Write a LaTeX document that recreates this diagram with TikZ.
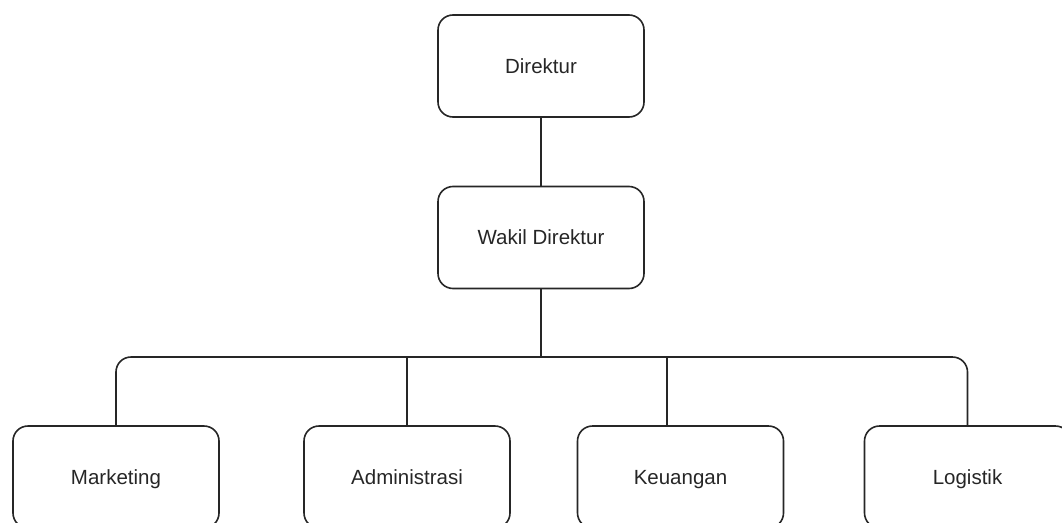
\documentclass[tikz,border=0pt]{standalone}
\usepackage{fontspec}
\setmainfont{Liberation Sans}
\begin{document}
\begin{tikzpicture}[x=1pt,y=-1pt,
  box/.style={draw=black!85, line width=1.6pt, rounded corners=15pt,
    minimum width=206pt, minimum height=102pt, inner sep=0pt,
    text height=14.7pt, text depth=0pt,
    font=\fontsize{20.5}{24}\selectfont, text=black!85},
  link/.style={draw=black!85, line width=1.6pt}]
\useasboundingbox (0,0) rectangle (1062,522);
\clip (0,0) rectangle (1062,522);
\node[box] (dir) at (541,66) {Direktur};
\node[box] (wak) at (541,237.5) {Wakil Direktur};
\node[box] (mkt) at (116,477) {Marketing};
\node[box] (adm) at (407,477) {Administrasi};
\node[box] (keu) at (680.5,477) {Keuangan};
\node[box] (log) at (967.5,477) {Logistik};
\coordinate (j) at (541,357);
\coordinate (keutop) at (667,426);
\draw[link] (dir.south) -- (wak.north);
\draw[link] (wak.south) -- (j);
\draw[link, rounded corners=15pt] (j) -| (mkt.north);
\draw[link] (j) -| (adm.north);
\draw[link] (j) -| (keutop);
\draw[link, rounded corners=15pt] (j) -| (log.north);
\end{tikzpicture}
\end{document}
